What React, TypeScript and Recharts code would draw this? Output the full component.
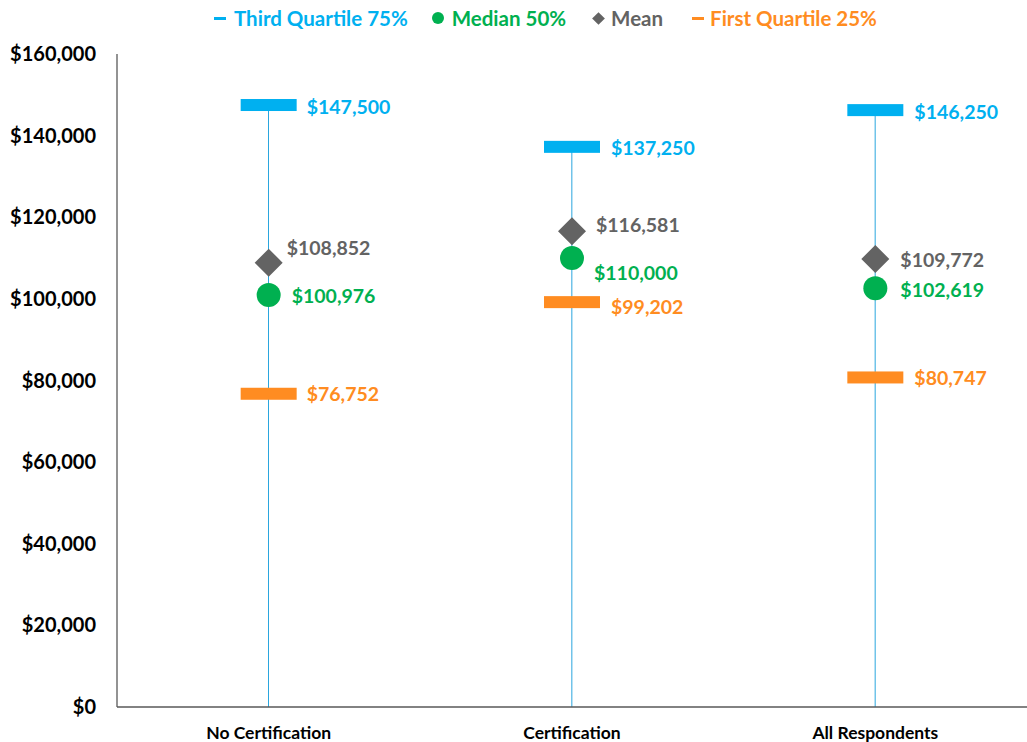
import React from 'react';
import {
  ComposedChart, Bar, Scatter, XAxis, YAxis, LabelList,
} from 'recharts';

const categories = ['No Certification', 'Certification', 'All Respondents'];
const thirdQuartile = [147500, 137250, 146250];
const median = [100976, 110000, 102619];
const mean = [108852, 116581, 109772];
const firstQuartile = [76752, 99202, 80747];
const yTicks = [0, 20000, 40000, 60000, 80000, 100000, 120000, 140000, 160000];

const BLUE = '#00B0F0';
const GREEN = '#00B050';
const GRAY = '#636363';
const ORANGE = '#FF8C21';
const FONT = 'Lato, "Open Sans", sans-serif';

const data = categories.map((name, i) => ({
  name,
  q3: thirdQuartile[i],
  median: median[i],
  mean: mean[i],
  q1: firstQuartile[i],
}));

// label nudges per category (dx, dy), series: q3, mean, median, q1
const labelShift: Record<string, [number, number][]> = {
  q3: [[38, 1], [39, 1], [39, 1]],
  mean: [[18, -15], [24, -7], [25, 1]],
  median: [[23, 1], [22, 14], [25, 1]],
  q1: [[38, 0], [39, 4], [39, 0]],
};

const fmt = (v: number) => '$' + v.toLocaleString('en-US');

const makeLabel = (key: string, color: string) => (props: any) => {
  const { x, y, width, height, value, index } = props;
  const cx = x + (width || 0) / 2;
  const cy = y + (height || 0) / 2;
  const [dx, dy] = labelShift[key][index] || [30, 0];
  return (
    <text x={cx + dx} y={cy + dy} fill={color} fontSize={19.5} fontWeight={700}
      fontFamily={FONT} dominantBaseline="central">
      {fmt(value)}
    </text>
  );
};

const Dash = (props: any) => {
  const { cx, cy, fill } = props;
  return <rect x={cx - 28} y={cy - 6} width={56} height={12} fill={fill} />;
};

const Dot = (props: any) => {
  const { cx, cy, fill } = props;
  return <circle cx={cx} cy={cy} r={12} fill={fill} />;
};

const Diamond = (props: any) => {
  const { cx, cy, fill } = props;
  const r = 14;
  return <path d={`M${cx},${cy - r}L${cx + r},${cy}L${cx},${cy + r}L${cx - r},${cy}Z`} fill={fill} />;
};

const legendItems = [
  { label: 'Third Quartile 75%', color: BLUE, kind: 'dash', left: 0 },
  { label: 'Median 50%', color: GREEN, kind: 'dot', left: 24 },
  { label: 'Mean', color: GRAY, kind: 'diamond', left: 28 },
  { label: 'First Quartile 25%', color: ORANGE, kind: 'dash', left: 29 },
];

const TopLegend = () => (
  <div style={{
    position: 'absolute', top: 5, left: 214, display: 'flex', alignItems: 'center',
    fontFamily: FONT, fontWeight: 700, fontSize: 20.5, lineHeight: '26px',
  }}>
    {legendItems.map((it) => (
      <div key={it.label} style={{ display: 'flex', alignItems: 'center', gap: it.kind === 'dash' && it.left ? 6 : 8, color: it.color, marginLeft: it.left }}>
        {it.kind === 'dash' && <span style={{ width: 12, height: 3, background: it.color, display: 'inline-block' }} />}
        {it.kind === 'dot' && <span style={{ width: 12, height: 12, borderRadius: 6, background: it.color, display: 'inline-block' }} />}
        {it.kind === 'diamond' && <span style={{ width: 9, height: 9, background: it.color, display: 'inline-block', transform: 'rotate(45deg)' }} />}
        <span>{it.label}</span>
      </div>
    ))}
  </div>
);

export default function App() {
  return (
    <div style={{ position: 'absolute', left: 0, top: 0, width: 1027, height: 742, background: '#fff' }}>
      <ComposedChart width={1027} height={742} data={data}
        margin={{ top: 54, right: 0, bottom: 0, left: 0 }}>
        <XAxis dataKey="name" height={35} tickLine={false} axisLine={{ stroke: '#595959', strokeWidth: 1.3 }}
          tick={{ fill: '#000', fontSize: 17.5, fontWeight: 700, fontFamily: FONT }} tickMargin={14} />
        <YAxis domain={[0, 160000]} ticks={yTicks} width={117} tickLine={false} tickSize={0}
          tickMargin={21} axisLine={{ stroke: '#595959', strokeWidth: 1.3 }}
          tickFormatter={fmt}
          tick={{ fill: '#000', fontSize: 20, fontWeight: 700, fontFamily: FONT }} />
        <Bar dataKey="q3" barSize={1} fill="#2AA6DE" isAnimationActive={false} legendType="none" />
        <Scatter dataKey="q3" fill={BLUE} shape={<Dash />} isAnimationActive={false}>
          <LabelList dataKey="q3" content={makeLabel('q3', BLUE)} />
        </Scatter>
        <Scatter dataKey="q1" fill={ORANGE} shape={<Dash />} isAnimationActive={false}>
          <LabelList dataKey="q1" content={makeLabel('q1', ORANGE)} />
        </Scatter>
        <Scatter dataKey="median" fill={GREEN} shape={<Dot />} isAnimationActive={false}>
          <LabelList dataKey="median" content={makeLabel('median', GREEN)} />
        </Scatter>
        <Scatter dataKey="mean" fill={GRAY} shape={<Diamond />} isAnimationActive={false}>
          <LabelList dataKey="mean" content={makeLabel('mean', GRAY)} />
        </Scatter>
      </ComposedChart>
      <TopLegend />
    </div>
  );
}
